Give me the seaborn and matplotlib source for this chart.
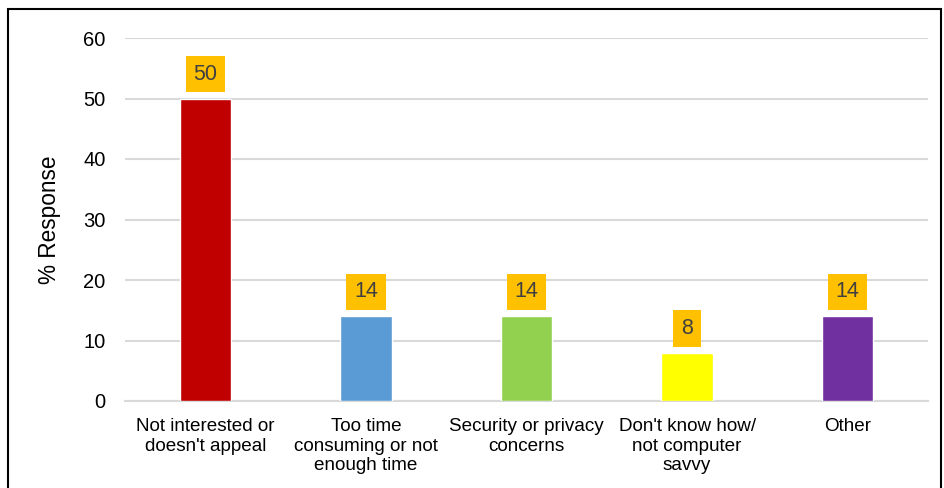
import matplotlib
matplotlib.use("Agg")
import matplotlib.pyplot as plt
from matplotlib.patches import Rectangle
import seaborn as sns
import pandas as pd

categories = [
    "Not interested or\ndoesn't appeal",
    "Too time\nconsuming or not\nenough time",
    "Security or privacy\nconcerns",
    "Don't know how/\nnot computer\nsavvy",
    "Other",
]
values = [50, 14, 14, 8, 14]
colors = ["#C00000", "#5B9BD5", "#92D050", "#FFFF00", "#7030A0"]
y_ticks = [0, 10, 20, 30, 40, 50, 60]

sns.set_theme(style="white")
plt.rcParams["font.family"] = ["Liberation Sans", "DejaVu Sans"]

W, H = 945, 488
fig = plt.figure(figsize=(W / 100, H / 100), dpi=100)
ax = fig.add_axes([125 / W, 1 - 401 / H, (928 - 125) / W, (401 - 38) / H])

df = pd.DataFrame({"reason": categories, "pct": values})
sns.barplot(data=df, x="reason", y="pct", hue="reason", palette=colors,
            width=0.32, legend=False, ax=ax, zorder=3, saturation=1)

ax.set_xlim(-0.5, len(categories) - 0.5)
ax.set_ylim(0, 60)
ax.set_yticks(y_ticks)
ax.set_yticklabels([str(t) for t in y_ticks], fontsize=14.5, color="#000000")
ax.tick_params(axis="both", length=0)
ax.tick_params(axis="y", pad=14)
ax.tick_params(axis="x", pad=12)
for lbl in ax.get_xticklabels():
    lbl.set_fontsize(13.6)
    lbl.set_linespacing(1.22)
    lbl.set_color("#000000")
ax.yaxis.grid(True, color="#D9D9D9", linewidth=1.5, zorder=0)
ax.set_axisbelow(True)
for side in ["left", "right", "top"]:
    ax.spines[side].set_visible(False)
ax.spines["bottom"].set_color("#D9D9D9")
ax.spines["bottom"].set_linewidth(1.5)
ax.set_xlabel("")
ax.set_ylabel("% Response", fontsize=16.3, color="#000000", labelpad=16)

# value labels on gold boxes above each bar
for i, v in enumerate(values):
    ax.annotate(str(v), xy=(i, v), xytext=(0, 17.5), textcoords="offset points",
                ha="center", va="center", fontsize=15.5, color="#404040",
                bbox=dict(boxstyle="square,pad=0.36", fc="#FFC000", ec="none"),
                zorder=5)

# outer frame around the chart
fig.patches.append(Rectangle((8 / W, -0.05), (941 - 8) / W, 1.05 - 9 / H,
                             transform=fig.transFigure, fill=False,
                             edgecolor="black", linewidth=1.5))

fig.savefig("out.png", dpi=100)
